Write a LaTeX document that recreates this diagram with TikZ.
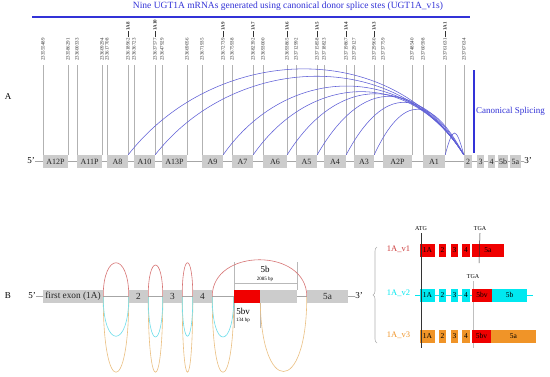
\documentclass[tikz,border=0pt]{standalone}
\usepackage{fontspec}
\setmainfont{Liberation Serif}
\usetikzlibrary{decorations.pathreplacing}
\definecolor{exgray}{RGB}{204,204,204}
\definecolor{tblue}{RGB}{50,50,215}
\definecolor{arcblue}{RGB}{95,95,215}
\definecolor{vred}{RGB}{240,0,0}
\definecolor{vcyan}{RGB}{0,232,240}
\definecolor{vorange}{RGB}{240,148,40}
\definecolor{arcred}{RGB}{215,115,115}
\definecolor{arccyan}{RGB}{110,222,235}
\definecolor{arcorange}{RGB}{235,192,130}
\definecolor{lred}{RGB}{205,60,60}
\begin{document}
\begin{tikzpicture}[x=1pt,y=1pt,
  exA/.style={fill=exgray,inner sep=0pt,minimum height=13pt,font=\fontsize{8}{8}\selectfont,text=black!85},
  exB/.style={fill=exgray,inner sep=0pt,minimum height=13pt,font=\fontsize{9.3}{9.3}\selectfont,text=black!85},
  exV/.style={inner sep=0pt,minimum height=13pt,font=\fontsize{7.5}{7.5}\selectfont,text=black},
  gline/.style={draw=gray!70,line width=0.6pt},
  vln/.style={draw=gray!60,line width=0.5pt},
  numlab/.style={font=\fontsize{5}{5}\selectfont,text=black!80,inner sep=0pt,rotate=90,anchor=west},
  splarc/.style={draw=arcblue,line width=0.55pt},
  lab/.style={inner sep=0pt},
  brk/.style={draw=gray!55,line width=0.5pt},
]
\useasboundingbox[fill=white] (0,0) rectangle (550,-376);

% ---------------- Panel A ----------------
\node[lab,font=\fontsize{9.5}{10}\selectfont,text=tblue] (title) at (288,-6) {Nine UGT1A mRNAs generated using canonical donor splice stes (UGT1A\_v1s)};
\draw[tblue,line width=1.5pt] (32,-17) -- (470,-17);
\node[lab,font=\fontsize{9}{9}\selectfont] (labA) at (8,-97) {A};

\foreach \x/\t [count=\i] in {43/233555489,68/233586291,77/233600333,102/233609294,107/233617708,
  128/{233618962\,\rule[0.3em]{1.2em}{0.3pt}\,\textbf{1A8}},134/233636723,
  155/{233637577\,\rule[0.3em]{1.2em}{0.3pt}\,\textbf{1A10}},162/233647929,187/233669056,202/233671935,
  223/{233672739\,\rule[0.3em]{1.2em}{0.3pt}\,\textbf{1A9}},232/233675938,
  253/{233682392\,\rule[0.3em]{1.2em}{0.3pt}\,\textbf{1A7}},263/233693000,
  287/{233693865\,\rule[0.3em]{1.2em}{0.3pt}\,\textbf{1A6}},296/233712992,
  317/{233715858\,\rule[0.3em]{1.2em}{0.3pt}\,\textbf{1A5}},324/233718823,
  346/{233719867\,\rule[0.3em]{1.2em}{0.3pt}\,\textbf{1A4}},354/233729127,
  374/{233729960\,\rule[0.3em]{1.2em}{0.3pt}\,\textbf{1A3}},383/233737759,412/233748540,423/233760598,
  445/{233761631\,\rule[0.3em]{1.2em}{0.3pt}\,\textbf{1A1}},464/233767634}
{
  \node[numlab] (num\i) at (\x,-61) {\t};
  \coordinate (vt\i) at (\x,-65);
  \coordinate (vb\i) at (\x,-155);
  \draw[vln] (vt\i) -- (vb\i);
}

\node[lab,font=\fontsize{9}{9}\selectfont] (fiveA) at (31,-161) {5'};
\node[lab,font=\fontsize{9}{9}\selectfont] (threeA) at (528,-161) {3'};
\draw[gline] (fiveA.east) -- (threeA.west);

\node[exA,minimum width=25pt] (A12P) at (55.5,-161.5) {A12P};
\node[exA,minimum width=25pt] (A11P) at (89.5,-161.5) {A11P};
\node[exA,minimum width=21pt] (A8) at (117.5,-161.5) {A8};
\node[exA,minimum width=21pt] (A10) at (144.5,-161.5) {A10};
\node[exA,minimum width=25pt] (A13P) at (174.5,-161.5) {A13P};
\node[exA,minimum width=21pt] (A9) at (212.5,-161.5) {A9};
\node[exA,minimum width=21pt] (A7) at (242.5,-161.5) {A7};
\node[exA,minimum width=24pt] (A6) at (275,-161.5) {A6};
\node[exA,minimum width=21pt] (A5) at (306.5,-161.5) {A5};
\node[exA,minimum width=22pt] (A4) at (335,-161.5) {A4};
\node[exA,minimum width=20pt] (A3) at (364,-161.5) {A3};
\node[exA,minimum width=29pt] (A2P) at (397.5,-161.5) {A2P};
\node[exA,minimum width=22pt] (A1) at (434,-161.5) {A1};
\node[exA,minimum width=8pt] (x2) at (468,-161.5) {2};
\node[exA,minimum width=7pt] (x3) at (480.5,-161.5) {3};
\node[exA,minimum width=7pt] (x4) at (491.5,-161.5) {4};
\node[exA,minimum width=10pt] (x5b) at (503,-161.5) {5b};
\node[exA,minimum width=11pt] (x5a) at (515.5,-161.5) {5a};

\draw[splarc] (A8.north east) to[out=52,in=122,distance=140pt] (x2.north west);
\draw[splarc] (A10.north east) to[out=52,in=122,distance=128pt] (x2.north west);
\draw[splarc] (A9.north east) to[out=55,in=122,distance=110pt] (x2.north west);
\draw[splarc] (A7.north east) to[out=55,in=122,distance=101pt] (x2.north west);
\draw[splarc] (A6.north east) to[out=58,in=122,distance=96pt] (x2.north west);
\draw[splarc] (A5.north east) to[out=60,in=122,distance=91pt] (x2.north west);
\draw[splarc] (A4.north east) to[out=62,in=120,distance=80pt] (x2.north west);
\draw[splarc] (A3.north east) to[out=65,in=118,distance=68pt] (x2.north west);
\draw[splarc] (A1.north east) to[out=75,in=105,distance=30pt] (x2.north west);

\coordinate (cst) at (474,-70);
\coordinate (cen) at (474,-153);
\draw[tblue,line width=1.2pt] (cst) -- (cen);
\node[lab,font=\fontsize{9}{9}\selectfont,text=tblue,anchor=west] (canon) at (476,-111) {Canonical Splicing};

% ---------------- Panel B ----------------
\node[lab,font=\fontsize{9}{9}\selectfont] (labB) at (8,-296) {B};
\node[lab,font=\fontsize{9}{9}\selectfont] (fiveB) at (32,-296) {5'};
\node[lab,font=\fontsize{9}{9}\selectfont] (threeB) at (359,-296) {3'};
\draw[gline] (fiveB.east) -- (threeB.west);

% bracket lines
\coordinate (b1t) at (234,-262); \coordinate (b1b) at (234,-328);
\coordinate (b2t) at (297,-262); \coordinate (b2b) at (297,-290);
\coordinate (bhl) at (234,-283); \coordinate (bhr) at (297,-283);
\coordinate (b3t) at (260,-303); \coordinate (b3b) at (260,-328);
\draw[brk] (b1t) -- (b1b);
\draw[brk] (b2t) -- (b2b);
\draw[brk] (bhl) -- (bhr);
\draw[brk] (b3t) -- (b3b);
\node[lab,font=\fontsize{9}{9}\selectfont] (t5b) at (265,-269) {5b};
\node[lab,font=\fontsize{5}{5}\selectfont] (t2085) at (265,-279) {2085 bp};
\node[lab,font=\fontsize{9}{9}\selectfont] (t5bv) at (243,-311) {5bv};
\node[lab,font=\fontsize{5}{5}\selectfont] (t134) at (243,-320) {134 bp};

% exon nodes (positions)
\path node[exB,minimum width=60pt] (B1A) at (73,-296.5) {first exon (1A)}
      node[exB,minimum width=19pt] (B2) at (138.5,-296.5) {2}
      node[exB,minimum width=19pt] (B3) at (172.5,-296.5) {3}
      node[exB,minimum width=19pt] (B4) at (202.5,-296.5) {4}
      node[inner sep=0pt,fill=vred,minimum width=26pt,minimum height=13pt] (B5bv) at (247,-296.5) {}
      node[inner sep=0pt,fill=exgray,minimum width=37pt,minimum height=13pt] (B5b) at (278.5,-296.5) {}
      node[exB,minimum width=41pt] (B5a) at (327.5,-296.5) {5a};

% arcs (orange, cyan below; red above)
\begin{scope}[line width=0.6pt]
\draw[arcorange] (B1A.east) to[out=-90,in=-90,distance=101pt] (B2.west);
\draw[arcorange] (B2.east) to[out=-90,in=-90,distance=101pt] (B3.west);
\draw[arcorange] (B3.east) to[out=-90,in=-90,distance=101pt] (B4.west);
\draw[arcorange] (B4.east) to[out=-90,in=-90,distance=101pt] (B5bv.west);
\draw[arcorange] (B5bv.east) to[out=-90,in=-90,distance=100pt] (B5a.west);
\draw[arccyan] (B1A.east) to[out=-90,in=-90,distance=53pt] (B2.west);
\draw[arccyan] (B2.east) to[out=-90,in=-90,distance=54pt] (B3.west);
\draw[arccyan] (B3.east) to[out=-90,in=-90,distance=53pt] (B4.west);
\draw[arccyan] (B4.east) to[out=-90,in=-90,distance=54pt] (B5bv.west);
\draw[arcred] (B1A.east) to[out=90,in=90,distance=45pt] (B2.west);
\draw[arcred] (B2.east) to[out=90,in=90,distance=42pt] (B3.west);
\draw[arcred] (B3.east) to[out=90,in=90,distance=45pt] (B4.west);
\draw[arcred] (B4.east) to[out=90,in=90,distance=49pt] (B5a.west);
\end{scope}

% redraw exons on top
\node[exB,minimum width=60pt] at (B1A) {first exon (1A)};
\node[exB,minimum width=19pt] at (B2) {2};
\node[exB,minimum width=19pt] at (B3) {3};
\node[exB,minimum width=19pt] at (B4) {4};
\node[inner sep=0pt,fill=vred,minimum width=26pt,minimum height=13pt] at (B5bv) {};
\node[inner sep=0pt,fill=exgray,minimum width=37pt,minimum height=13pt] at (B5b) {};
\node[exB,minimum width=41pt] at (B5a) {5a};

% ---------------- Right panel ----------------
\coordinate (brb) at (377,-343);
\coordinate (brt) at (377,-247);
\draw[gray!60,line width=0.6pt,decorate,decoration={brace,amplitude=4pt}] (brb) -- (brt);

\node[lab,font=\fontsize{8.5}{8.5}\selectfont,text=lred] (v1) at (398.5,-249) {1A\_v1};
\node[lab,font=\fontsize{8.5}{8.5}\selectfont,text=vcyan] (v2) at (398.5,-293) {1A\_v2};
\node[lab,font=\fontsize{8.5}{8.5}\selectfont,text=vorange] (v3) at (398.5,-335) {1A\_v3};

\node[lab,font=\fontsize{6}{6}\selectfont] (atg) at (421,-229) {ATG};
\node[lab,font=\fontsize{6}{6}\selectfont] (tga1) at (480,-229) {TGA};
\node[lab,font=\fontsize{6}{6}\selectfont] (tga2) at (473,-277) {TGA};
\coordinate (atgb) at (421,-348);
\coordinate (tga1b) at (479,-263);
\coordinate (tga2b) at (473,-348);
\draw[gray!50,line width=0.5pt] (tga2.south) ++(0,-2) -- (tga2b);

% v2 line
\coordinate (v2l) at (415,-295);
\coordinate (v2r) at (533,-295);
\draw[vcyan,line width=0.6pt] (v2l) -- (v2r);

% v1 row
\node[exV,fill=vred,minimum width=15pt] (r1a) at (427.5,-250.5) {1A};
\node[exV,fill=vred,minimum width=7.5pt] (r12) at (442.5,-250.5) {2};
\node[exV,fill=vred,minimum width=7.5pt] (r13) at (454.5,-250.5) {3};
\node[exV,fill=vred,minimum width=8pt] (r14) at (466,-250.5) {4};
\node[exV,fill=vred,minimum width=32pt] (r15a) at (488,-250.5) {5a};
% v2 row
\node[exV,fill=vcyan,minimum width=15pt] (r2a) at (427.5,-295) {1A};
\node[exV,fill=vcyan,minimum width=7.5pt] (r22) at (442.5,-295) {2};
\node[exV,fill=vcyan,minimum width=7.5pt] (r23) at (454.5,-295) {3};
\node[exV,fill=vcyan,minimum width=8pt] (r24) at (466,-295) {4};
\node[exV,fill=vred,minimum width=20pt] (r25bv) at (482,-295) {5bv};
\node[exV,fill=vcyan,minimum width=35pt] (r25b) at (509.5,-295) {5b};
% v3 row
\node[exV,fill=vorange,minimum width=15pt] (r3a) at (427.5,-336) {1A};
\node[exV,fill=vorange,minimum width=7.5pt] (r32) at (442.5,-336) {2};
\node[exV,fill=vorange,minimum width=7.5pt] (r33) at (454.5,-336) {3};
\node[exV,fill=vorange,minimum width=8pt] (r34) at (466,-336) {4};
\node[exV,fill=vred,minimum width=19pt] (r35bv) at (481.5,-336) {5bv};
\node[exV,fill=vorange,minimum width=45pt] (r35a) at (513.5,-336) {5a};

\draw[black!80,line width=0.5pt] (atg.south) ++(0,-2) -- (atgb);
\draw[black!80,line width=0.5pt] (tga1.south) ++(0,-2) -- (tga1b);
\end{tikzpicture}
\end{document}
